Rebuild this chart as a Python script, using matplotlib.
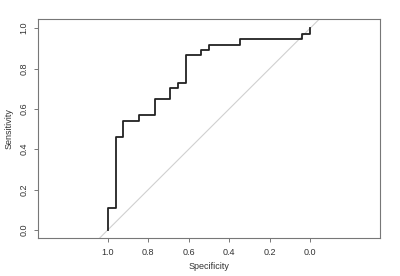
import matplotlib
matplotlib.use('Agg')
import matplotlib.pyplot as plt

# ROC curve vertices (specificity, sensitivity)
spec = [1.0, 1.0, 0.962, 0.923, 0.846, 0.769, 0.692, 0.654, 0.615, 0.538, 0.5, 0.346, 0.038, 0.0]
sens = [0.0, 0.108, 0.459, 0.541, 0.568, 0.649, 0.703, 0.730, 0.865, 0.892, 0.919, 0.946, 0.973, 1.0]

ticks = [1.0, 0.8, 0.6, 0.4, 0.2, 0.0]
tick_labels = ['1.0', '0.8', '0.6', '0.4', '0.2', '0.0']

plt.rcParams['font.family'] = ['Liberation Sans', 'DejaVu Sans']

fig = plt.figure(figsize=(4.0, 2.76), dpi=100)
ax = fig.add_axes([0.095, 0.1377, 0.855, 0.793])

# diagonal reference line
ax.axline((1.0, 0.0), (0.0, 1.0), color='#d0d0d0', lw=0.8, zorder=1)
ax.plot(spec, sens, drawstyle='steps-post', color='#222222', lw=1.3, zorder=2)

ax.set_xlim(1.345, -0.345)
ax.set_ylim(-0.04, 1.045)

ax.set_xticks(ticks)
ax.set_xticklabels(tick_labels)
ax.set_yticks(ticks)
ax.set_yticklabels(tick_labels, rotation=90, va='center')

for s in ax.spines.values():
    s.set_color('#777777')
    s.set_linewidth(0.8)
ax.tick_params(colors='#777777', labelcolor='#333333', labelsize=6.5, length=3, width=0.7, pad=4)

ax.set_xlabel('Specificity', fontsize=6.5, color='#333333', labelpad=4)
ax.set_ylabel('Sensitivity', fontsize=6.5, color='#333333', labelpad=4)

fig.savefig('out.png', dpi=100)
